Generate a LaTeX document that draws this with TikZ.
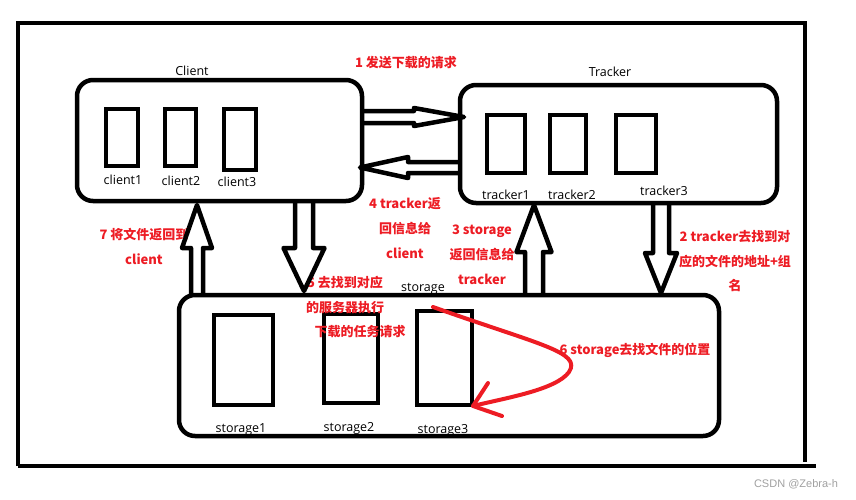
\documentclass[tikz,border=0pt]{standalone}
\usepackage{fontspec}
\setmainfont{Open Sans}
\newfontfamily\notefont{Noto Sans CJK SC}
\newfontfamily\markfont{Liberation Sans}
\usetikzlibrary{calc, positioning}
\definecolor{stepred}{RGB}{237,28,36}
\definecolor{markgray}{RGB}{160,160,160}

% hollow block arrow: tail, tip, shaft half-width, head half-width, head length
\newcommand{\hollowarrow}[5]{%
  \coordinate (ha-base) at ($(#2)!#5!(#1)$);
  \draw[blockarrow] ($(#1)!#3!90:(#2)$) -- ($(ha-base)!#3!-90:(#1)$)
    -- ($(ha-base)!#4!-90:(#1)$) -- (#2) -- ($(ha-base)!#4!90:(#1)$)
    -- ($(ha-base)!#3!90:(#1)$) -- ($(#1)!#3!-90:(#2)$);
}

\begin{document}
\begin{tikzpicture}[
    x=1pt, y=-1pt,
    bigbox/.style={draw, line width=4.5pt, rounded corners=16pt, inner sep=0pt, outer sep=0pt},
    unitbox/.style={draw, line width=4.5pt, inner sep=0pt, outer sep=0pt},
    namelabel/.style={font=\fontsize{12.5}{14}\selectfont, anchor=base, inner sep=0pt},
    note/.style={text=stepred, font=\notefont\bfseries\fontsize{13}{15}\selectfont, anchor=base, inner sep=0pt},
    blockarrow/.style={line width=4.5pt, line join=round},
    walk/.style={draw=stepred, line width=4pt, line cap=round, line join=round},
]
\useasboundingbox (0,0) rectangle (856,499);

%--- Outer frame ---
\draw[line width=4.5pt] (18,466) -- (18,23) -- (805,23) -- (805,462);
\draw[line width=4.5pt] (18,466) -- (816,466);

%============================================================
% Client group
%============================================================
\node[namelabel] (clientlab) at (192,75) {Client};
\node[bigbox, minimum width=285pt, minimum height=121pt] (client) at (219.5,140.5) {};
\node[unitbox, minimum width=32pt, minimum height=57pt] (c1) at (122,137.5) {};
\node[unitbox, minimum width=31pt, minimum height=57pt] (c2) at (180.5,137.5) {};
\node[unitbox, minimum width=32pt, minimum height=61pt] (c3) at (240,139.5) {};
\node[namelabel] (c1lab) at (123,184) {client1};
\node[namelabel] (c2lab) at (181,185) {client2};
\node[namelabel] (c3lab) at (237,186) {client3};

%============================================================
% Tracker group
%============================================================
\node[namelabel] (trackerlab) at (610,76) {Tracker};
\node[bigbox, minimum width=317pt, minimum height=118pt] (tracker) at (618.5,144) {};
\node[unitbox, minimum width=38pt, minimum height=58pt] (t1) at (506,144) {};
\node[unitbox, minimum width=36pt, minimum height=58pt] (t2) at (568,144) {};
\node[unitbox, minimum width=40pt, minimum height=58pt] (t3) at (636,144) {};
\node[namelabel] (t1lab) at (506,199) {tracker1};
\node[namelabel] (t2lab) at (572,199) {tracker2};
\node[namelabel] (t3lab) at (664,195) {tracker3};

%============================================================
% Storage group
%============================================================
\node[namelabel] (storagelab) at (423,291) {storage};
\node[bigbox, minimum width=540pt, minimum height=141pt] (storage) at (449,365.5) {};
\node[unitbox, minimum width=59pt, minimum height=90pt] (s1) at (243.5,360) {};
\node[unitbox, minimum width=54pt, minimum height=89pt] (s2) at (351,358.5) {};
\node[unitbox, minimum width=55pt, minimum height=94pt] (s3) at (444.5,358) {};
\node[namelabel] (s1lab) at (241,432) {storage1};
\node[namelabel] (s2lab) at (349,431) {storage2};
\node[namelabel] (s3lab) at (443,433) {storage3};

%============================================================
% Step notes
%============================================================
\node[note] (n1) at (406,67) {1 发送下载的请求};
\node[note] (n2a) at (735,241) {2 tracker去找到对};
\node[note] (n2b) at (735,266) {应的文件的地址+组};
\node[note] (n2c) at (735,290) {名};
\node[note] (n3a) at (482,234) {3 storage};
\node[note] (n3b) at (482,259) {返回信息给};
\node[note] (n3c) at (482,284) {tracker};
\node[note] (n4a) at (405,208) {4 tracker返};
\node[note] (n4b) at (405,233) {回信息给};
\node[note] (n4c) at (405,258) {client};
\node[note] (n5a) at (345,287) {5 去找到对应};
\node[note] (n5b) at (345,312) {的服务器执行};
\node[note] (n5c) at (360,336) {下载的任务请求};
\node[note] (n6) at (635,354) {6 storage去找文件的位置};
\node[note] (n7a) at (144,239) {7 将文件返回到};
\node[note] (n7b) at (144,264) {client};

%============================================================
% Block arrows
%============================================================
% client -> tracker
\coordinate (reqtail) at (client.east |- 0,117);
\coordinate (reqtip) at ($(tracker.west |- 0,117)+(4,0)$);
\hollowarrow{reqtail}{reqtip}{6pt}{9pt}{50pt}
% tracker -> client
\coordinate (reptail) at (tracker.west |- 0,167.5);
\coordinate (reptip) at ($(client.east |- 0,167.5)+(-2,0)$);
\hollowarrow{reptail}{reptip}{5.5pt}{10.5pt}{48pt}
% tracker -> storage
\coordinate (findtail) at (tracker.south -| 661,0);
\coordinate (findtip) at ($(storage.north -| 661,0)+(0,-2)$);
\hollowarrow{findtail}{findtip}{8pt}{16pt}{40pt}
% storage -> tracker
\coordinate (infotail) at (storage.north -| 534,0);
\coordinate (infotip) at ($(tracker.south -| 534,0)+(0,2)$);
\hollowarrow{infotail}{infotip}{9pt}{17.5pt}{47pt}
% client -> storage
\coordinate (jobtail) at (client.south -| 304,0);
\coordinate (jobtip) at ($(storage.north -| 304,0)+(0,-4)$);
\hollowarrow{jobtail}{jobtip}{9pt}{20.5pt}{43pt}
% storage -> client
\coordinate (backtail) at (storage.north -| 197,0);
\coordinate (backtip) at ($(client.south -| 197,0)+(0,4)$);
\hollowarrow{backtail}{backtip}{6pt}{15pt}{43pt}

%--- Seek path inside storage ---
\coordinate (seekstart) at (433,307);
\coordinate (seektip) at (473,406);
\draw[walk] (seekstart) .. controls (540,345) and (582,352) .. (569,372)
    .. controls (556,390) and (505,398) .. (seektip);
\draw[walk] ($(seektip)+(15,-23)$) -- (seektip) -- ($(seektip)+(29,10)$);

%--- Watermark ---
\node[font=\markfont\fontsize{11}{13}\selectfont, text=markgray, anchor=base, inner sep=0pt]
    (mark) at (796,487) {CSDN @Zebra-h};

\end{tikzpicture}
\end{document}
